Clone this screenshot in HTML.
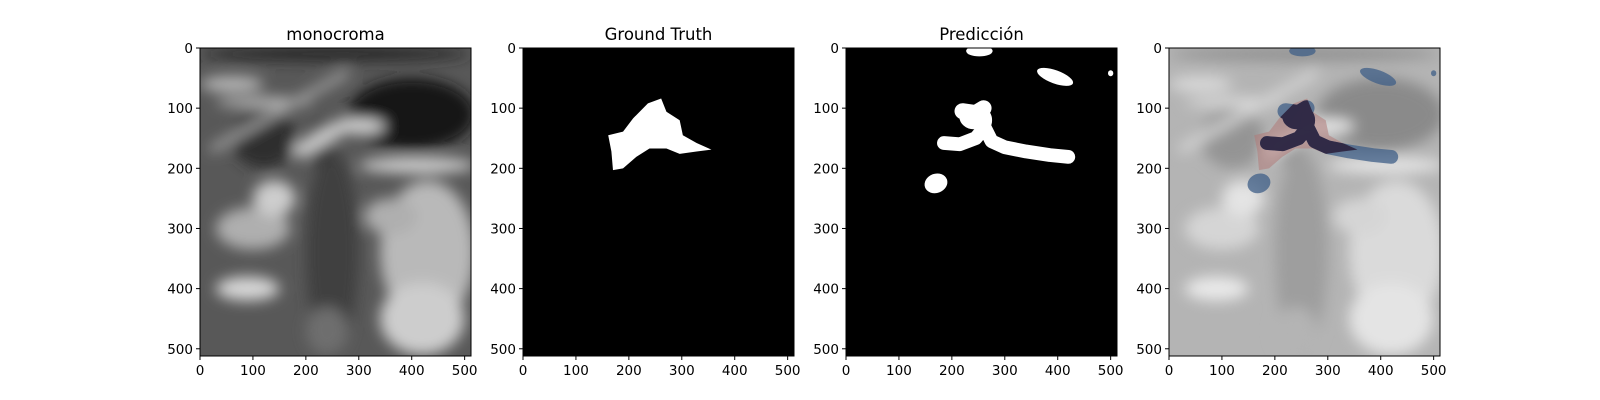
<!DOCTYPE html>
<html><head><meta charset="utf-8">
<style>
body{margin:0;background:#fff;}
svg{display:block;font-family:"DejaVu Sans","Liberation Sans",sans-serif;}
</style></head>
<body>
<svg id="fig" width="1600" height="400" viewBox="0 0 1600 400" xmlns="http://www.w3.org/2000/svg">
<defs>
  <filter id="b8" filterUnits="userSpaceOnUse" x="0" y="0" width="1600" height="400"><feGaussianBlur stdDeviation="7"/></filter>
</defs>
</svg>
<script>
// ---- data ----
const panelTitles = ['monocroma','Ground Truth','Predicción',''];
const xTicks = [0,100,200,300,400,500];
const yTicks = [0,100,200,300,400,500];
// ground-truth mask polygon (data coords x,y)
const gtX = [161,189,208,236,261,271,296,302,328,356,328,296,271,239,214,189,170,167];
const gtY = [145,139,117,92,84,106,120,145,158,169,172,176,167,167,181,200,203,172];
// prediction strokes (thick round polylines)
const predStrokeX = [[185,215,245,262,275,300,340,385,420],[220,245,260]];
const predStrokeY = [[158,160,150,132,155,165,172,178,181],[105,108,100]];
const predStrokeW = [26,30];
// prediction blobs: cx, cy, rx, ry, rotation
const blobCX = [252,395,170,500,240,262];
const blobCY = [5,48,225,42,115,120];
const blobRX = [25,36,22,5,26,14];
const blobRY = [9,11,16,5,20,18];
const blobRot = [0,20,-20,0,10,0];
// ultrasound tones: cx, cy, rx, ry, gray
const usCX = [256,400,120,100,300,120,250,430,60,410,420,240,140,230,360,90];
const usCY = [10,110,150,300,130,90,340,340,60,195,450,470,250,160,280,400];
const usRX = [256,120,60,70,50,90,50,90,60,110,80,40,40,25,50,60];
const usRY = [12,60,50,35,12,8,170,120,12,12,60,40,30,40,30,20];
const usG  = [40,25,45,175,215,190,65,185,190,215,205,110,205,60,175,215];

// ---- layout ----
const svg = document.getElementById('fig');
const NS = 'http://www.w3.org/2000/svg';
const lefts = [200,523,846,1169], top0 = 48, W = 271, H = 308, N = 512;
function mk(tag, attrs, parent){const e=document.createElementNS(NS,tag);for(const k in attrs)e.setAttribute(k,attrs[k]);(parent||svg).appendChild(e);return e;}
function sx(p,v){return lefts[p]+v*W/N;}
function sy(v){return top0+v*H/N;}

function drawUS(p,g,light){
  const bg = mk('rect',{x:lefts[p],y:top0,width:W,height:H,fill:light?'#b4b4b4':'#585858'},g);
  
  
  const bl=mk('g',{filter:'url(#b8)'},g);
  for(let i=0;i<usCX.length;i++){
    let v=usG[i]; if(light) v=Math.round(125+v*0.5);
    const e=mk('ellipse',{cx:sx(p,usCX[i]),cy:sy(usCY[i]),rx:usRX[i]*W/N,ry:usRY[i]*H/N,fill:`rgb(${v},${v},${v})`},bl);
    
    
  }
  // diagonal bright band
  const d=mk('line',{x1:sx(p,20),y1:sy(170),x2:sx(p,280),y2:sy(40),stroke:light?'#d8d8d8':'#a0a0a0','stroke-width':8},bl);
  
  
  const d2=mk('line',{x1:sx(p,180),y1:sy(175),x2:sx(p,280),y2:sy(125),stroke:light?'#e6e6e6':'#d0d0d0','stroke-width':14},bl);
  
  
}
function gtPoints(p){return gtX.map((x,i)=>sx(p,x)+','+sy(gtY[i])).join(' ');}
function drawPred(p,g,fill,op){
  const pg=mk('g',{opacity:op},g);
  predStrokeX.forEach((xs,k)=>{
    const pts=xs.map((x,i)=>sx(p,x)+','+sy(predStrokeY[k][i])).join(' ');
    const l=mk('polyline',{points:pts,fill:'none',stroke:fill,'stroke-width':predStrokeW[k]*W/N,'stroke-linecap':'round','stroke-linejoin':'round'},pg);
    
    
  });
  for(let i=0;i<blobCX.length;i++){
    const cx=sx(p,blobCX[i]),cy=sy(blobCY[i]);
    const e=mk('ellipse',{cx:cx,cy:cy,rx:blobRX[i]*W/N,ry:blobRY[i]*H/N,fill:fill,transform:`rotate(${blobRot[i]} ${cx} ${cy})`},pg);
    
    
  }
}

for(let p=0;p<4;p++){
  const g=mk('g',{});
  
  
  const cp0=mk('clipPath',{id:'c'+p},g);
  mk('rect',{x:lefts[p],y:top0,width:W,height:H},cp0);
  const img=mk('g',{'clip-path':`url(#c${p})`},g);
  
  
  if(p===0){drawUS(0,img,false);}
  else if(p===1||p===2){
    mk('rect',{x:lefts[p],y:top0,width:W,height:H,fill:'#000'},img);
    if(p===1){
      const poly=mk('polygon',{points:gtPoints(1),fill:'#fff'},img);
      
      
    } else drawPred(2,img,'#fff',1);
  } else {
    drawUS(3,img,true);
    const poly=mk('polygon',{points:gtPoints(3),fill:'#b07a78','fill-opacity':0.55},img);
    
    
    drawPred(3,img,'#3f5f88',0.75);
    const cp=mk('clipPath',{id:'gtclip'},img);
    mk('polygon',{points:gtPoints(3)},cp);
    const og=mk('g',{'clip-path':'url(#gtclip)'},img);
    drawPred(3,og,'#2a1f3a',0.85);
  }
  const fr=mk('rect',{x:lefts[p],y:top0,width:W,height:H,fill:'none',stroke:'#000','stroke-width':1},g);
  
  
  xTicks.forEach(t=>{
    const x=sx(p,t);
    mk('line',{x1:x,y1:top0+H,x2:x,y2:top0+H+4,stroke:'#000','stroke-width':1},g);
    const tx=mk('text',{x:x,y:top0+H+19,'font-size':13.5,'text-anchor':'middle',fill:'#000'},g);
    tx.textContent=t;
    
    
  });
  yTicks.forEach(t=>{
    const y=sy(t);
    mk('line',{x1:lefts[p]-4,y1:y,x2:lefts[p],y2:y,stroke:'#000','stroke-width':1},g);
    const tx=mk('text',{x:lefts[p]-7,y:y+5,'font-size':13.5,'text-anchor':'end',fill:'#000'},g);
    tx.textContent=t;
    
    
  });
  if(panelTitles[p]){
    const tt=mk('text',{x:lefts[p]+W/2,y:top0-8,'font-size':16.5,'text-anchor':'middle',fill:'#000'},g);
    tt.textContent=panelTitles[p];
    
    
  }
}
</script>
</body></html>
